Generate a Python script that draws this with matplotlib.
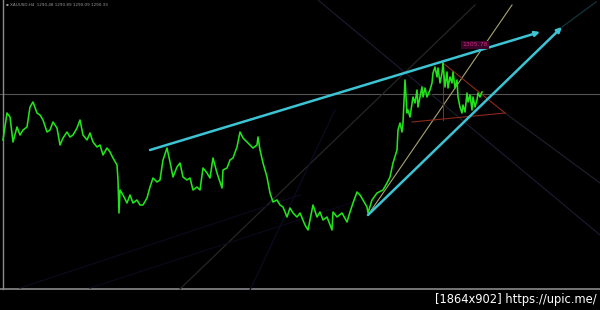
import matplotlib
matplotlib.use("Agg")
import matplotlib.pyplot as plt

# ---- data (bar position, price level in chart units) ----
bar_x = [3, 7, 10, 13, 17, 20, 23, 27, 30, 33, 37, 40, 43, 47, 50, 53, 57, 60, 63, 67,
         70, 73, 77, 80, 83, 87, 90, 93, 97, 100, 103, 107, 110, 113, 117, 118, 119, 120, 123, 127,
         130, 133, 137, 140, 143, 147, 150, 153, 157, 160, 163, 167, 170, 173, 177, 180, 183, 187, 190, 193,
         197, 200, 203, 207, 210, 213, 217, 222, 223, 227, 230, 233, 237, 240, 243, 247, 250, 253, 257, 258,
         260, 263, 267, 270, 273, 277, 280, 283, 287, 290, 293, 297, 300, 305, 308, 313, 317, 320, 323, 327,
         332, 333, 337, 342, 347, 350, 353, 357, 360, 363, 367, 368, 372, 377, 383, 387, 390, 393, 397, 398,
         400, 402, 403, 405, 407, 408, 410, 413, 415, 417, 418, 420, 422, 423, 425, 427, 430, 432, 433, 435,
         437, 438, 440, 442, 443, 445, 447, 448, 450, 452, 453, 455, 457, 458, 460, 462, 463, 465, 467, 468,
         470, 472, 473, 475, 477, 478, 480, 482]
price = [170, 197, 193, 168, 183, 175, 180, 183, 203, 208, 197, 195, 190, 178, 180, 188, 182, 165, 172, 178,
         173, 175, 182, 190, 175, 170, 177, 168, 163, 165, 155, 162, 158, 152, 145, 130, 97, 120, 115, 107,
         115, 107, 110, 105, 105, 112, 123, 132, 128, 130, 150, 162, 148, 133, 143, 147, 133, 130, 132, 120,
         123, 120, 142, 137, 132, 152, 137, 122, 140, 142, 150, 152, 163, 178, 172, 168, 165, 162, 165, 173,
         160, 147, 133, 117, 108, 110, 105, 103, 93, 102, 97, 93, 97, 85, 80, 105, 93, 98, 90, 93,
         80, 98, 93, 97, 88, 98, 107, 118, 115, 110, 103, 97, 110, 117, 120, 127, 133, 147, 160, 180,
         187, 178, 187, 230, 197, 200, 193, 213, 207, 220, 203, 213, 223, 213, 222, 213, 220, 227, 237, 243,
         233, 242, 227, 237, 247, 223, 238, 222, 233, 227, 238, 222, 230, 213, 203, 197, 205, 198, 217, 208,
         215, 200, 213, 203, 210, 217, 213, 218]

# trend lines: (x0, y0, x1, y1)
upper_trend = (150, 160, 540, 278)
lower_trend = (368, 95, 562, 283)
fan_line = (368, 95, 512, 305)
tri_lines = [(443, 247, 505, 197), (412, 188, 505, 197), (443, 247, 443, 190)]
faint_lines = [
    ((505, 197, 600, 127), '#1e1e2c'),
    ((318, 310, 600, 75), '#1a1a2e'),
    ((180, 21, 475, 305), '#262626'),
    ((20, 22, 300, 115), '#0a0a1c'),
    ((90, 22, 360, 110), '#09091a'),
    ((250, 20, 335, 200), '#0b0b22'),
    ((562, 283, 596, 308), '#12363c'),
]
h_level = 216
label_text = "1305.78"
header = "\u25aa XAUUSD,H4  1290.48 1290.89 1290.09 1290.33"
footer = "[1864x902] https://upic.me/"

fig = plt.figure(figsize=(6.0, 3.1), dpi=100, facecolor='black')
ax = fig.add_axes([0, 0, 1, 1])
ax.set_facecolor('black')
ax.set_xlim(0, 600)
ax.set_ylim(0, 310)
ax.axis('off')

# frame lines
ax.axhline(h_level, color='#555555', lw=0.8, zorder=1)
ax.plot([3, 3], [21, 310], color='#8a8a8a', lw=1.0, zorder=1)
ax.plot([0, 600], [21, 21], color='#8a8a8a', lw=1.2, zorder=1)

for (x0, y0, x1, y1), c in faint_lines:
    ax.plot([x0, x1], [y0, y1], color=c, lw=0.9, zorder=1)

ax.plot(fan_line[::2], fan_line[1::2], color='#a8a470', lw=0.8, zorder=2)
for (x0, y0, x1, y1) in tri_lines:
    ax.plot([x0, x1], [y0, y1], color='#8a2a1c', lw=0.8, zorder=2)

ax.plot(bar_x, price, color='#22e41a', lw=1.15, zorder=3)

for (x0, y0, x1, y1) in (upper_trend, lower_trend):
    ax.annotate('', xy=(x1, y1), xytext=(x0, y0),
                arrowprops=dict(arrowstyle='-|>', color='#3cc4d4', lw=1.8,
                                mutation_scale=7, shrinkA=0, shrinkB=0), zorder=4)

ax.text(475, 265, label_text, color='#c02c7c', fontsize=4.5, ha='center', va='center',
        bbox=dict(boxstyle='square,pad=0.25', fc='#3c0428', ec='none'), zorder=5)

ax.text(6, 305, header, color='#9a9a9a', fontsize=3, ha='left', va='center')
ax.text(597, 10, footer, color='white', fontsize=8.3, ha='right', va='center',
        family='DejaVu Sans')

fig.savefig('out.png', dpi=100, facecolor='black')
